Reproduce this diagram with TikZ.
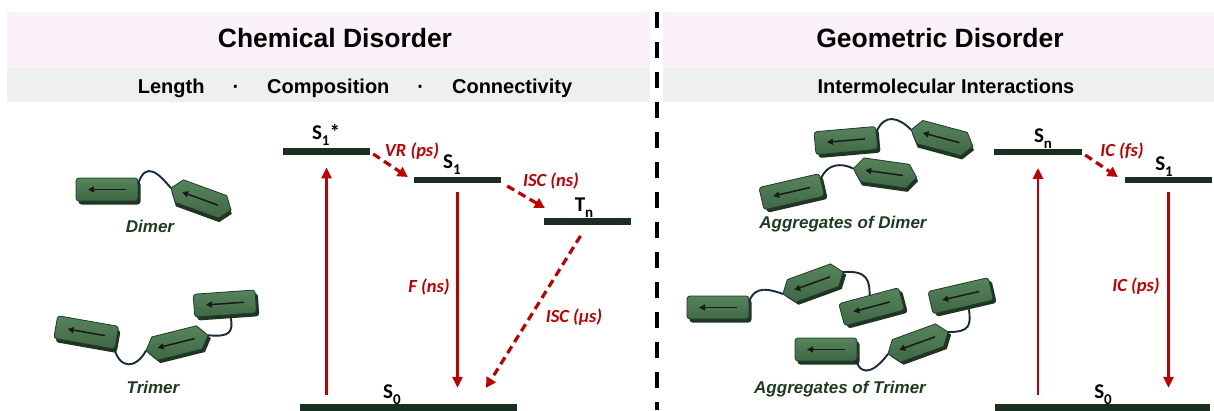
\documentclass[tikz,border=0pt]{standalone}
\usepackage{fontspec}
\setmainfont{Liberation Sans}
\newfontfamily\calib{Carlito}
\usetikzlibrary{arrows.meta,calc}

\definecolor{bandpink}{HTML}{FBF1F8}
\definecolor{bandgray}{HTML}{EFEFEF}
\definecolor{levelc}{HTML}{1A2E22}
\definecolor{redc}{HTML}{C00000}
\definecolor{molface}{HTML}{3F6845}
\definecolor{molhi}{HTML}{56845C}
\definecolor{molside}{HTML}{1F3523}
\definecolor{moledge}{HTML}{223A27}
\definecolor{linkc}{HTML}{18293C}
\definecolor{labelgreen}{HTML}{1F3B22}

% subscript used in the state labels
\newcommand\lsub[1]{\raisebox{-0.33em}{\fontsize{15}{15}\selectfont #1}}

\tikzset{
  level/.style={fill=levelc, inner sep=0pt, minimum height=6.5pt},
  lvllabel/.style={font=\calib\bfseries\fontsize{21}{21}\selectfont, anchor=base, inner sep=0pt},
  ratelabel/.style={font=\calib\bfseries\itshape\fontsize{18.5}{18.5}\selectfont, text=redc, inner sep=0pt},
  solidarr/.style={draw=redc, line width=2.8pt, -{Triangle[length=11pt,width=10pt]}},
  dasharr/.style={draw=redc, line width=3.2pt, dash pattern=on 8pt off 5pt, -{Triangle[length=10pt,width=10.5pt]}},
  headtitle/.style={font=\bfseries\fontsize{26.5}{26.5}\selectfont, anchor=base, inner sep=0pt},
  headsub/.style={font=\bfseries\fontsize{20}{20}\selectfont, anchor=base, inner sep=0pt},
  mollabel/.style={font=\bfseries\itshape\fontsize{17}{17}\selectfont, text=labelgreen, inner sep=0pt},
  linker/.style={draw=linkc, line width=1.9pt},
  molarrow/.style={-{Triangle[length=6pt,width=6pt]}, line width=1.5pt, draw=black!90},
  molbody/.style={top color=molhi, bottom color=molface, draw=moledge, line width=0.8pt},
}

% rectangular unit: name, centre, angle
\newcommand\molrect[3]{%
  \begin{scope}[shift={#2}, rotate=#3]
    \fill[molside, rounded corners=3pt] (-29.5,-9.5) rectangle (32.5,13.5);
    \path[molbody, rounded corners=3pt] (-32,-13) rectangle (30,10);
    \draw[molarrow] (18,-1.5) -- (-20,-1.5);
    \coordinate (#1-e) at (31,-1);
    \coordinate (#1-w) at (-32,-1);
    \coordinate (#1-ne) at (30,-7);
    \coordinate (#1-se) at (29,9);
    \coordinate (#1-n) at (0,-13);
    \coordinate (#1-s) at (4,13.5);
  \end{scope}}

% hexagonal unit: name, centre, angle
\newcommand\molhex[3]{%
  \begin{scope}[shift={#2}, rotate=#3]
    \fill[molside, shift={(2,3.5)}] (-32,0) -- (-23,-12) -- (23,-12) -- (32,0) -- (23,12) -- (-23,12) -- cycle;
    \path[molbody] (-32,0) -- (-23,-12) -- (23,-12) -- (32,0) -- (23,12) -- (-23,12) -- cycle;
    \draw[molarrow] (18,0) -- (-20,0);
    \coordinate (#1-e) at (32,0);
    \coordinate (#1-w) at (-32,0);
    \coordinate (#1-n) at (0,-12);
    \coordinate (#1-s) at (0,12);
  \end{scope}}

\begin{document}
\begin{tikzpicture}[x=1pt,y=-1pt]
  \useasboundingbox (0,0) rectangle (1214,410);
  \fill[white] (0,0) rectangle (1214,410);

  % header bands
  \fill[bandpink] (7,12) rectangle (650,68);
  \fill[bandgray] (7,68) rectangle (650,102);
  \fill[bandpink] (663,12) rectangle (1214,68);
  \fill[bandgray] (663,68) rectangle (1214,102);

  \node[headtitle] (tleft) at (335,47) {Chemical Disorder};
  \node[headsub] (sleft) at (355,93) {Length\hspace{28pt}·\hspace{28pt}Composition\hspace{28pt}·\hspace{28pt}Connectivity};
  \node[headtitle] (tright) at (940,47) {Geometric Disorder};
  \node[headsub] (sright) at (946,93) {Intermolecular Interactions};

  % divider
  \draw[line width=4pt, dash pattern=on 16pt off 14pt] (656.5,12) -- (656.5,410);

  % ---------- chemical disorder: single chains ----------
  \molrect{dr}{(108,191)}{0}
  \molhex{dh}{(201,199)}{-20}
  \draw[linker] (dr-ne) .. controls +(8,-24) and +(-12,-14) .. (dh-w);
  \node[mollabel] (dimer) at (150,226) {Dimer};

  \molrect{ta}{(87,334)}{-10}
  \molhex{tb}{(177,343)}{14}
  \molrect{tc}{(226,305)}{4}
  \draw[linker] (ta-se) .. controls +(6,22) and +(-10,18) .. (tb-w);
  \draw[linker] (tb-e) .. controls +(22,2) and +(2,14) .. (tc-s);
  \node[mollabel] (trimer) at (153,387) {Trimer};

  % ---------- chemical disorder: energy levels ----------
  \node[level, minimum width=87pt] (s1s) at (326.5,151.5) {};
  \node[level, minimum width=87pt] (s1l) at (457.5,180) {};
  \node[level, minimum width=87pt] (tn) at (587.5,221.5) {};
  \node[level, minimum width=217pt, minimum height=7pt] (s0l) at (408.5,407.5) {};

  \node[lvllabel] (ls1s) at (326,139) {S\lsub{1}*};
  \node[lvllabel] (ls1l) at (452,168) {S\lsub{1}};
  \node[lvllabel] (ltn) at (584,211) {T\lsub{n}};
  \node[lvllabel] (ls0l) at (392,398) {S\lsub{0}};

  \draw[solidarr, shorten <=9pt, shorten >=12.5pt] (s0l.north -| s1s.south) -- (s1s.south);
  \draw[solidarr, shorten <=9pt, shorten >=16pt] (s1l.south) -- (s1l.south |- s0l.north);
  \draw[dasharr] ($(s1s.east)+(3,2.5)$) -- ($(s1l.west)+(-6,-3)$);
  \draw[dasharr] ($(s1l.east)+(6,6)$) -- ($(tn.west)+(1,-13.5)$);
  \draw[dasharr] ($(tn.south)+(-7,11)$) -- ($(s0l.north)+(77.5,-16)$);

  \node[ratelabel] (rvr) at (412,151) {VR (ps)};
  \node[ratelabel] (riscn) at (551,181) {ISC (ns)};
  \node[ratelabel] (rf) at (429,287) {F (ns)};
  \node[ratelabel] (riscm) at (574,317) {ISC (μs)};

  % ---------- geometric disorder: aggregates ----------
  \molrect{ar}{(847,142)}{5}
  \molhex{ah}{(942,138)}{-15}
  \draw[linker] (ar-ne) .. controls +(8,-20) and +(-12,-12) .. (ah-w);
  \molrect{br}{(793,193)}{13}
  \molhex{bh}{(885,173)}{-8}
  \draw[linker] (br-ne) .. controls +(6,-16) and +(-12,-6) .. (bh-w);
  \node[mollabel] (aggdimer) at (843,224) {Aggregates of Dimer};

  \molrect{ca}{(719,309)}{0}
  \molhex{cb}{(813,283)}{20}
  \molrect{cc}{(873,308)}{15}
  \draw[linker] (ca-ne) .. controls +(6,-18) and +(-12,-4) .. (cb-w);
  \draw[linker] (cb-e) .. controls +(25,-2) and +(0,-14) .. (cc-n);

  \molrect{da}{(827,351)}{0}
  \molhex{db}{(918,343)}{20}
  \molrect{dc}{(962,297)}{13}
  \draw[linker] (da-se) .. controls +(6,20) and +(-10,14) .. (db-w);
  \draw[linker] (db-e) .. controls +(22,0) and +(2,16) .. (dc-s);
  \node[mollabel] (aggtrimer) at (840,389) {Aggregates of Trimer};

  % ---------- geometric disorder: energy levels ----------
  \node[level, minimum width=88pt] (sn) at (1038,152) {};
  \node[level, minimum width=87pt] (s1r) at (1168.5,180) {};
  \node[level, minimum width=215pt, minimum height=7pt] (s0r) at (1102.5,407.5) {};

  \node[lvllabel] (lsn) at (1043,142) {S\lsub{n}};
  \node[lvllabel] (ls1r) at (1164,170) {S\lsub{1}};
  \node[lvllabel] (ls0r) at (1103,398) {S\lsub{0}};

  \draw[solidarr, shorten <=9pt, shorten >=12.5pt] (s0r.north -| sn.south) -- (sn.south);
  \draw[solidarr, shorten <=9pt, shorten >=16pt] (s1r.south) -- (s1r.south |- s0r.north);
  \draw[dasharr] ($(sn.east)+(3,3)$) -- ($(s1r.west)+(-7,-3)$);

  \node[ratelabel] (ricf) at (1122,151) {IC (fs)};
  \node[ratelabel] (ricp) at (1136,286) {IC (ps)};
\end{tikzpicture}
\end{document}
